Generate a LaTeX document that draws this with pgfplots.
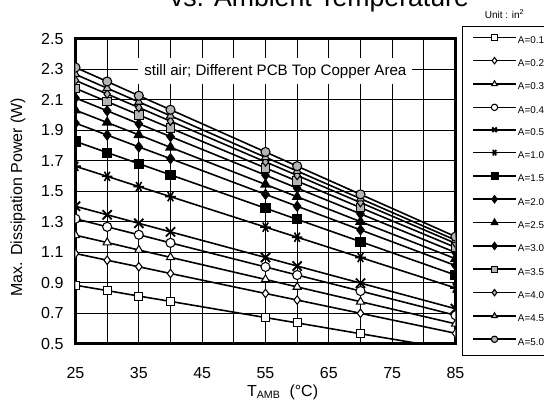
\documentclass[border=0pt]{standalone}
\usepackage{fontspec}
\setmainfont{Liberation Sans}
\usepackage{pgfplots}
\pgfplotsset{compat=1.18}
\definecolor{mkgray}{HTML}{B4B4B4}

\begin{document}
\begin{tikzpicture}
\begin{axis}[
  at={(0,0)}, anchor=south west,
  scale only axis, width=285pt, height=228.75pt,
  xmin=25, xmax=85, ymin=0.5, ymax=2.5,
  xtick={25,35,45,55,65,75,85}, minor xtick={30,40,50,60,70,80},
  ytick={0.5,0.7,0.9,1.1,1.3,1.5,1.7,1.9,2.1,2.3,2.5},
  grid=both,
  major grid style={black, line width=0.6pt},
  minor grid style={black, line width=0.6pt},
  axis line style={line width=1.6pt},
  major tick length=0pt, minor tick length=0pt,
  /pgf/number format/assume math mode=true,
  ticklabel style={font=\fontsize{12}{14}\selectfont},
  yticklabel style={/pgf/number format/fixed, /pgf/number format/fixed zerofill, /pgf/number format/precision=1, xshift=-5.5pt},
  xticklabel style={yshift=-14.5pt},
  ylabel={Max. Dissipation Power (W)},
  ylabel style={font=\fontsize{12}{14}\selectfont, at={(axis description cs:-0.1513,0.48)}, anchor=center},
  xlabel={T\textsubscript{AMB}\ \ (°C)},
  xlabel style={font=\fontsize{12}{14}\selectfont, at={(axis description cs:0.545,0)}, anchor=base, yshift=-39.75pt},
  clip marker paths=true,
  every axis plot/.append style={black, line width=1.2pt},
  legend style={at={(1.0171,1.0419)}, anchor=north west, draw=black, line width=0.6pt,
    font=\fontsize{7.4}{8}\selectfont, inner xsep=7.5pt, inner ysep=6pt,
    row sep=9.1pt, column sep=1pt,
    nodes={inner sep=0pt, text height=5.5pt, text depth=1.5pt}},
  legend cell align=left,
  legend image code/.code={\draw[#1, mark indices={2}, mark size=2.4pt] plot coordinates {(0pt,2.5pt) (16pt,2.5pt) (32pt,2.5pt)};},
]
% A=0.1
\addplot[mark=square*, mark size=3pt, mark indices={1,2,3,4,5,6,7}, mark options={fill=white, line width=0.8pt}] coordinates {
(25,0.882) (30,0.847) (35,0.811) (40,0.776) (55,0.670) (60,0.635) (70,0.564) (85,0.459)};
\addlegendentry{A=0.1}
% A=0.2
\addplot[mark=diamond*, mark size=3.2pt, mark options={fill=white, line width=0.8pt}] coordinates {
(25,1.090) (30,1.046) (35,1.003) (40,0.959) (55,0.828) (60,0.785) (70,0.698) (85,0.567)};
\addlegendentry{A=0.2}
% A=0.3
\addplot[mark=triangle*, mark size=3.5pt, mark options={fill=white, line width=0.8pt}] coordinates {
(25,1.210) (30,1.162) (35,1.113) (40,1.065) (55,0.920) (60,0.871) (70,0.774) (85,0.629)};
\addlegendentry{A=0.3}
% A=0.4
\addplot[mark=*, mark size=3.4pt, mark options={fill=white, line width=0.8pt}] coordinates {
(25,1.318) (30,1.265) (35,1.213) (40,1.160) (55,1.002) (60,0.949) (70,0.844) (85,0.685)};
\addlegendentry{A=0.4}
% A=0.5
\addplot[mark=x, mark size=4.9pt, mark options={line width=1.4pt}] coordinates {
(25,1.400) (30,1.344) (35,1.288) (40,1.232) (55,1.064) (60,1.008) (70,0.896) (85,0.728)};
\addlegendentry{A=0.5}
% A=1.0
\addplot[mark=asterisk, mark size=4pt, mark options={rotate=90, line width=1.2pt}] coordinates {
(25,1.662) (30,1.596) (35,1.529) (40,1.463) (55,1.263) (60,1.197) (70,1.064) (85,0.864)};
\addlegendentry{A=1.0}
% A=1.5
\addplot[mark=square*, mark size=3.2pt, mark options={fill=black}] coordinates {
(25,1.825) (30,1.752) (35,1.679) (40,1.606) (55,1.387) (60,1.314) (70,1.168) (85,0.949)};
\addlegendentry{A=1.5}
% A=2.0
\addplot[mark=diamond*, mark size=3.4pt, mark options={fill=black}] coordinates {
(25,1.945) (30,1.867) (35,1.789) (40,1.712) (55,1.478) (60,1.400) (70,1.245) (85,1.011)};
\addlegendentry{A=2.0}
% A=2.5
\addplot[mark=triangle*, mark size=3.6pt, mark options={fill=black}] coordinates {
(25,2.030) (30,1.949) (35,1.868) (40,1.786) (55,1.543) (60,1.462) (70,1.299) (85,1.056)};
\addlegendentry{A=2.5}
% A=3.0
\addplot[mark=diamond*, mark size=3.4pt, mark options={fill=black}] coordinates {
(25,2.110) (30,2.026) (35,1.941) (40,1.857) (55,1.604) (60,1.519) (70,1.350) (85,1.097)};
\addlegendentry{A=3.0}
% A=3.5
\addplot[mark=square*, mark size=3.2pt, mark options={fill=mkgray, line width=0.8pt}] coordinates {
(25,2.173) (30,2.086) (35,1.999) (40,1.912) (55,1.651) (60,1.565) (70,1.391) (85,1.130)};
\addlegendentry{A=3.5}
% A=4.0
\addplot[mark=diamond*, mark size=3.2pt, mark options={fill=mkgray, line width=0.8pt}] coordinates {
(25,2.225) (30,2.136) (35,2.047) (40,1.958) (55,1.691) (60,1.602) (70,1.424) (85,1.157)};
\addlegendentry{A=4.0}
% A=4.5
\addplot[mark=triangle*, mark size=3.5pt, mark options={fill=mkgray, line width=0.8pt}] coordinates {
(25,2.265) (30,2.174) (35,2.084) (40,1.993) (55,1.721) (60,1.631) (70,1.450) (85,1.178)};
\addlegendentry{A=4.5}
% A=5.0
\addplot[mark=*, mark size=3.4pt, mark options={fill=mkgray, line width=0.8pt}] coordinates {
(25,2.310) (30,2.218) (35,2.125) (40,2.033) (55,1.756) (60,1.663) (70,1.478) (85,1.201)};
\addlegendentry{A=5.0}

\node[anchor=base west, fill=white, inner sep=4.5pt, font=\fontsize{11.35}{13}\selectfont]
  at (rel axis cs:0.1645,0.880) {still air; Different PCB Top Copper Area};
\end{axis}
\node[anchor=base, font=\fontsize{20}{24}\selectfont] at (183pt,252.4pt) {vs. Ambient Temperature};
\node[anchor=base, font=\fontsize{7.5}{9}\selectfont] at (321.75pt,243.4pt) {Unit : in\textsuperscript{2}};
\pgfresetboundingbox
\useasboundingbox (-56.625pt,-42.375pt) rectangle ++(408pt,300pt);
\end{tikzpicture}
\end{document}
